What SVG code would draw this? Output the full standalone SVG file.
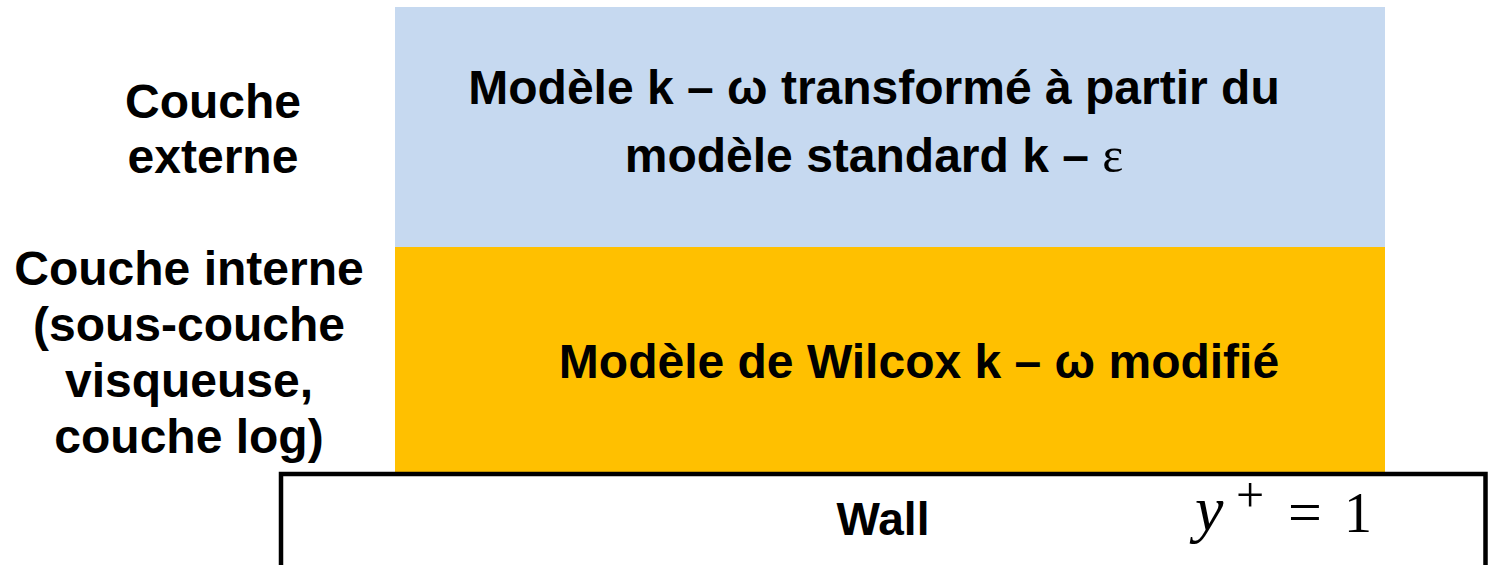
<svg xmlns="http://www.w3.org/2000/svg" width="1489" height="565" viewBox="0 0 1489 565">
<style>
.t{font-family:"Liberation Sans",Arial,sans-serif;font-weight:bold;fill:#000;text-anchor:middle}
.m{font-family:"Liberation Serif","Times New Roman",serif;fill:#000}
</style>
<rect width="1489" height="565" fill="#fff"/>
<g id="outer-layer">
<rect x="395" y="7" width="990" height="240" fill="#C6D9F0"/>
<text class="t" font-size="48" x="874" y="104">Modèle k – ω transformé à partir du</text>
<text class="t" font-size="48" x="874" y="172">modèle standard k – <tspan class="m" font-weight="normal" font-size="50">ε</tspan></text>
</g>
<g id="inner-layer">
<rect x="395" y="247" width="990" height="226" fill="#FFC000"/>
<text class="t" font-size="48" x="919" y="378">Modèle de Wilcox k – ω modifié</text>
</g>
<g id="wall">
<path d="M281 570 V474 H1485.5 V570" fill="none" stroke="#000" stroke-width="4.5"/>
<text class="t" font-size="46" x="883" y="535">Wall</text>
<text class="m" font-size="64" x="1195" y="530" font-style="italic">y</text>
<text class="m" font-size="50" x="1250" y="512" text-anchor="middle">+</text>
<text class="m" font-size="60" x="1305" y="532" text-anchor="middle">=</text>
<text class="m" font-size="56" x="1358" y="532" text-anchor="middle">1</text>
</g>
<g id="label-outer">
<text class="t" font-size="48" x="213" y="118">Couche</text>
<text class="t" font-size="48" x="213" y="173">externe</text>
</g>
<g id="label-inner">
<text class="t" font-size="48" x="189" y="285">Couche interne</text>
<text class="t" font-size="48" x="189" y="341">(sous-couche</text>
<text class="t" font-size="48" x="189" y="397">visqueuse,</text>
<text class="t" font-size="48" x="189" y="453">couche log)</text>
</g>
<g id="connectors"></g>
</svg>
